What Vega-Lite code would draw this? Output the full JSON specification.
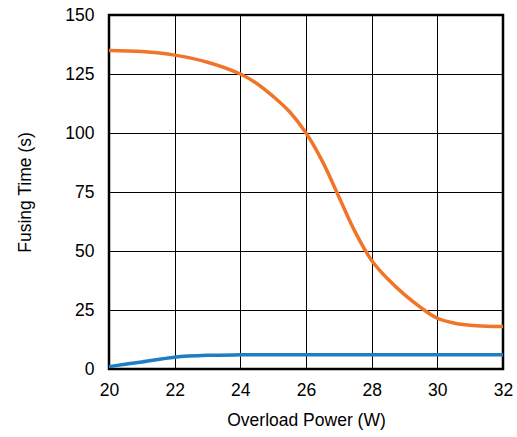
{
  "$schema": "https://vega.github.io/schema/vega-lite/v6.json",
  "autosize": {"type": "none"},
  "padding": {"left": 109, "top": 15, "right": 14, "bottom": 68},
  "width": 394,
  "height": 354,
  "background": "white",
  "config": {
    "font": "Liberation Sans",
    "view": {"stroke": "black", "strokeWidth": 2.5},
    "axis": {
      "grid": true, "gridColor": "black", "gridWidth": 1, "gridOpacity": 1,
      "domain": false, "ticks": false, "labelFlush": false, "labelOverlap": false,
      "labelFont": "Liberation Sans", "labelFontSize": 17.5, "labelColor": "black",
      "titleFont": "Liberation Sans", "titleFontSize": 17.5, "titleFontWeight": "normal", "titleColor": "black"
    }
  },
  "data": {"values": [
    {"p": 20, "t": 135, "s": "a"},
    {"p": 21, "t": 134.5, "s": "a"},
    {"p": 22, "t": 133, "s": "a"},
    {"p": 23, "t": 130, "s": "a"},
    {"p": 24, "t": 125, "s": "a"},
    {"p": 24.5, "t": 121, "s": "a"},
    {"p": 25, "t": 115.5, "s": "a"},
    {"p": 25.5, "t": 109, "s": "a"},
    {"p": 26, "t": 100, "s": "a"},
    {"p": 26.5, "t": 88, "s": "a"},
    {"p": 27, "t": 73, "s": "a"},
    {"p": 27.5, "t": 58, "s": "a"},
    {"p": 28, "t": 46, "s": "a"},
    {"p": 28.5, "t": 38, "s": "a"},
    {"p": 29, "t": 31.5, "s": "a"},
    {"p": 29.5, "t": 26, "s": "a"},
    {"p": 30, "t": 21.5, "s": "a"},
    {"p": 30.5, "t": 19.5, "s": "a"},
    {"p": 31, "t": 18.5, "s": "a"},
    {"p": 31.5, "t": 18.1, "s": "a"},
    {"p": 32, "t": 18, "s": "a"},
    {"p": 20, "t": 1, "s": "b"},
    {"p": 21, "t": 3, "s": "b"},
    {"p": 22, "t": 5, "s": "b"},
    {"p": 23, "t": 5.8, "s": "b"},
    {"p": 24, "t": 6, "s": "b"},
    {"p": 26, "t": 6, "s": "b"},
    {"p": 28, "t": 6, "s": "b"},
    {"p": 30, "t": 6, "s": "b"},
    {"p": 32, "t": 6, "s": "b"}
  ]},
  "mark": {"type": "line", "interpolate": "catmull-rom", "strokeWidth": 3.5, "clip": false},
  "encoding": {
    "x": {"field": "p", "type": "quantitative", "scale": {"domain": [20, 32], "nice": false},
      "axis": {"values": [20, 22, 24, 26, 28, 30, 32], "title": "Overload Power (W)", "labelPadding": 12, "titlePadding": 13}},
    "y": {"field": "t", "type": "quantitative", "scale": {"domain": [0, 150], "nice": false},
      "axis": {"values": [0, 25, 50, 75, 100, 125, 150], "title": "Fusing Time (s)", "labelPadding": 15, "titlePadding": 30}},
    "color": {"field": "s", "type": "nominal", "scale": {"domain": ["a", "b"], "range": ["#F07528", "#1E7DC3"]}, "legend": null}
  }
}
